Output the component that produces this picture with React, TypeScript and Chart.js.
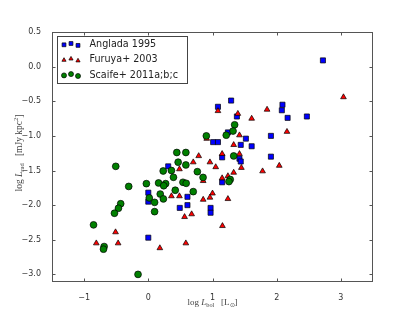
import React, { useEffect, useRef } from "react";
import { Chart, registerables } from "chart.js";
Chart.register(...registerables);

const xTicks = [-1, 0, 1, 2, 3];
const yTicks = [0.5, 0, -0.5, -1, -1.5, -2, -2.5, -3];
const seriesNames = ["Anglada 1995", "Furuya+ 2003", "Scaife+ 2011a;b;c"];

const angladaX = [2.72, 1.29, 1.085, 2.09, 2.08, 2.17, 2.47, 1.38, 1.52, 1.61, 1.91, 1.91, 1.24, 1.01, 1.085, 1.44, 1.15, 1.42, 1.44, 1.15, 0.31, 0.0, 0.0, 0.61, 0.61, 0.49, 0.97, 0.97, 0.0];
const angladaY = [0.09, -0.49, -0.58, -0.55, -0.63, -0.74, -0.72, -0.72, -1.04, -1.15, -1.0, -1.3, -0.95, -1.09, -1.09, -1.13, -1.31, -1.33, -1.37, -1.67, -1.44, -1.82, -1.95, -1.88, -2.0, -2.04, -2.04, -2.11, -2.47];

const furuyaX = [3.04, 1.85, 1.61, 1.395, 1.085, 1.42, 2.16, 0.91, 1.33, 1.15, 1.42, 0.785, 0.7, 0.96, 1.05, 1.45, 2.04, 1.78, 1.33, 0.485, 1.24, 1.15, 0.855, 1.0, 0.36, 0.485, 0.855, 0.96, 1.24, 0.675, 0.565, 1.155, -0.51, -0.81, -0.47, 0.18, 0.585];
const furuyaY = [-0.44, -0.62, -0.75, -0.68, -0.64, -0.99, -0.94, -1.04, -1.13, -1.26, -1.26, -1.29, -1.38, -1.38, -1.45, -1.46, -1.43, -1.51, -1.53, -1.48, -1.58, -1.61, -1.65, -1.83, -1.87, -1.87, -1.92, -1.89, -1.91, -2.13, -2.17, -2.3, -2.39, -2.55, -2.55, -2.62, -2.55];

const scaifeX = [1.345, 1.32, 1.214, 0.904, 0.444, 0.585, 1.33, 0.465, 0.585, -0.507, 0.232, 0.36, 0.764, 0.392, 0.853, -0.03, 0.16, 0.27, 0.24, 0.54, 0.59, -0.305, 1.276, 1.256, 0.42, 0.7, 0.186, 0.015, 0.235, 0.098, -0.43, -0.465, -0.527, 0.098, -0.853, -0.688, -0.698, -0.16];
const scaifeY = [-0.84, -0.93, -0.99, -1.0, -1.24, -1.24, -1.29, -1.38, -1.42, -1.44, -1.507, -1.5, -1.517, -1.598, -1.6, -1.69, -1.68, -1.69, -1.72, -1.67, -1.685, -1.73, -1.63, -1.66, -1.785, -1.805, -1.84, -1.896, -1.91, -1.96, -1.98, -2.045, -2.117, -2.094, -2.285, -2.598, -2.636, -3.0];

const colors = ["#0000ff", "#ff0000", "#008000"];
const styles = ["rect", "triangle", "circle"];
const radii = [3.6, 3.3, 3.4];

const toPts = (xs: number[], ys: number[]) => xs.map((x, i) => ({ x, y: ys[i] }));

function drawMarker(ctx: CanvasRenderingContext2D, style: string, x: number, y: number, r: number, fill: string) {
  ctx.save();
  ctx.fillStyle = fill;
  ctx.strokeStyle = "#000";
  ctx.lineWidth = 0.7;
  ctx.beginPath();
  if (style === "rect") {
    const s = r / Math.SQRT2;
    ctx.rect(x - s, y - s, 2 * s, 2 * s);
  } else if (style === "triangle") {
    ctx.moveTo(x, y - r);
    ctx.lineTo(x + r * 0.866, y + r * 0.5);
    ctx.lineTo(x - r * 0.866, y + r * 0.5);
    ctx.closePath();
  } else {
    ctx.arc(x, y, r, 0, Math.PI * 2);
  }
  ctx.fill();
  ctx.stroke();
  ctx.restore();
}

type Piece = { t: string; style?: "i" | "sub" | "sup" };

function drawMath(ctx: CanvasRenderingContext2D, pieces: Piece[], size: number) {
  const fam = '"Liberation Serif", serif';
  const fontFor = (p: Piece) =>
    p.style === "sub" || p.style === "sup" ? `${size * 0.7}px ${fam}` : p.style === "i" ? `italic ${size}px ${fam}` : `${size}px ${fam}`;
  let total = 0;
  for (const p of pieces) {
    ctx.font = fontFor(p);
    total += ctx.measureText(p.t).width;
  }
  let x = -total / 2;
  for (const p of pieces) {
    ctx.font = fontFor(p);
    const dy = p.style === "sub" ? size * 0.25 : p.style === "sup" ? -size * 0.4 : 0;
    ctx.fillText(p.t, x, dy);
    x += ctx.measureText(p.t).width;
  }
}

const decorPlugin = {
  id: "decor",
  afterDraw(chart: any) {
    const ctx: CanvasRenderingContext2D = chart.ctx;
    const { left, right, top, bottom } = chart.chartArea;
    const xs = chart.scales.x;
    const ys = chart.scales.y;
    ctx.save();
    ctx.strokeStyle = "#555";
    ctx.lineWidth = 1;
    ctx.strokeRect(left + 0.5, top + 0.5, right - left - 1, bottom - top - 1);
    ctx.beginPath();
    const tl = 3.5;
    for (const v of xTicks) {
      const px = Math.round(xs.getPixelForValue(v)) + 0.5;
      ctx.moveTo(px, bottom);
      ctx.lineTo(px, bottom - tl);
      ctx.moveTo(px, top);
      ctx.lineTo(px, top + tl);
    }
    for (const v of yTicks) {
      const py = Math.round(ys.getPixelForValue(v)) + 0.5;
      ctx.moveTo(left, py);
      ctx.lineTo(left + tl, py);
      ctx.moveTo(right, py);
      ctx.lineTo(right - tl, py);
    }
    ctx.stroke();

    // legend
    const lx = 57.5, ly = 36.5, lw = 130, lh = 47;
    ctx.fillStyle = "#fff";
    ctx.fillRect(lx, ly, lw, lh);
    ctx.strokeStyle = "#444";
    ctx.strokeRect(lx, ly, lw, lh);
    const offs = [0.3, -1, 0.9];
    const mx = [64, 71, 78];
    for (let i = 0; i < 3; i++) {
      const yc = 44.5 + i * 15.3;
      for (let k = 0; k < 3; k++) {
        drawMarker(ctx, styles[i], mx[k], yc + offs[k], radii[i] - 0.9, colors[i]);
      }
      ctx.fillStyle = "#222";
      ctx.font = '9.6px "DejaVu Sans"';
      ctx.textBaseline = "middle";
      ctx.textAlign = "left";
      ctx.fillText(seriesNames[i], 89.5, yc);
    }

    // axis titles
    ctx.fillStyle = "#444";
    ctx.textBaseline = "alphabetic";
    ctx.textAlign = "left";
    ctx.save();
    ctx.translate((left + right) / 2, 305);
    drawMath(ctx, [{ t: "log " }, { t: "L", style: "i" }, { t: "bol", style: "sub" }, { t: "   [L" }, { t: "\u2299", style: "sub" }, { t: "]" }], 9);
    ctx.restore();
    ctx.save();
    ctx.translate(22, 153);
    ctx.rotate(-Math.PI / 2);
    drawMath(ctx, [{ t: "log " }, { t: "L", style: "i" }, { t: "rad", style: "sub" }, { t: "   [mJy kpc" }, { t: "2", style: "sup" }, { t: "]" }], 9.5);
    ctx.restore();
    ctx.restore();
  },
};

export default function App() {
  const ref = useRef<HTMLCanvasElement>(null);
  useEffect(() => {
    document.body.style.margin = "0";
    const all = [toPts(angladaX, angladaY), toPts(furuyaX, furuyaY), toPts(scaifeX, scaifeY)];
    const chart = new Chart(ref.current as HTMLCanvasElement, {
      type: "scatter",
      data: {
        datasets: all.map((d, i) => ({
          label: seriesNames[i],
          data: d,
          pointStyle: styles[i] as any,
          pointRadius: radii[i],
          pointHoverRadius: radii[i],
          backgroundColor: colors[i],
          borderColor: "#000",
          borderWidth: 0.7,
          order: 3 - i,
        })),
      },
      options: {
        animation: false,
        responsive: false,
        events: [],
        layout: { padding: { top: 32, right: 42, left: 0, bottom: 0 } },
        plugins: { legend: { display: false }, tooltip: { enabled: false } },
        scales: {
          x: {
            type: "linear",
            min: -1.5,
            max: 3.5,
            grid: { display: false },
            border: { display: false },
            afterBuildTicks: (s: any) => {
              s.ticks = xTicks.map((v) => ({ value: v }));
            },
            afterFit: (s: any) => {
              s.height = 31;
            },
            ticks: {
              padding: 3,
              color: "#333",
              font: { family: '"DejaVu Sans"', size: 8 },
              callback: (v: any) => (v < 0 ? "\u2212" : "") + Math.abs(v).toFixed(0),
            },
          },
          y: {
            type: "linear",
            min: -3.11,
            max: 0.5,
            grid: { display: false },
            border: { display: false },
            afterBuildTicks: (s: any) => {
              s.ticks = yTicks.map((v) => ({ value: v }));
            },
            afterFit: (s: any) => {
              s.width = 52;
            },
            ticks: {
              padding: 3,
              color: "#333",
              font: { family: '"DejaVu Sans"', size: 8 },
              callback: (v: any) => (v < 0 ? "\u2212" : "") + Math.abs(v).toFixed(1),
            },
          },
        },
      },
      plugins: [decorPlugin],
    });
    return () => chart.destroy();
  }, []);
  return (
    <div style={{ position: "fixed", left: 0, top: 0, width: 415, height: 313, background: "#fff" }}>
      <canvas ref={ref} width={415} height={313} style={{ display: "block" }} />
    </div>
  );
}
